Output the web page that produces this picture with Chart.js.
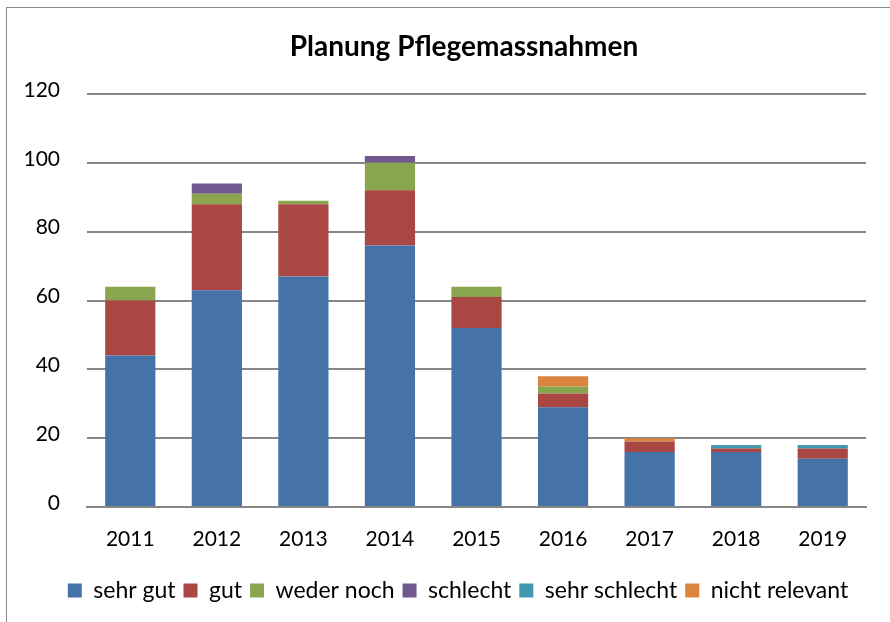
<!DOCTYPE html>
<html><head><meta charset="utf-8">
<script src="https://cdn.jsdelivr.net/npm/chart.js@4"></script>
<style>html,body{margin:0;padding:0;background:#fff}#wrap{position:relative;width:890px;height:622px}</style>
</head><body><div id="wrap"><canvas id="c" width="890" height="622"></canvas></div>
<script>
const categories = ["2011","2012","2013","2014","2015","2016","2017","2018","2019"];
const sehrGut      = [44, 63, 67, 76, 52, 29, 16, 16, 14];
const gut          = [16, 25, 21, 16,  9,  4,  3,  1,  3];
const wederNoch    = [ 4,  3,  1,  8,  3,  2,  0,  0,  0];
const schlecht     = [ 0,  3,  0,  2,  0,  0,  0,  0,  0];
const sehrSchlecht = [ 0,  0,  0,  0,  0,  0,  0,  1,  1];
const nichtRelevant= [ 0,  0,  0,  0,  0,  3,  1,  0,  0];
const yTicks = [0, 20, 40, 60, 80, 100, 120];

const FONT = "Lato, 'Open Sans', sans-serif";
const borderPlugin = {
  id: 'frame',
  afterLayout(chart) {
    if (chart.titleBlock) { chart.titleBlock.left += 31; chart.titleBlock.right += 31; }
    if (chart.legend) { chart.legend.left += 25; chart.legend.right += 25; }
  },
  beforeDraw(chart) {
    const ctx = chart.ctx;
    ctx.save();
    ctx.fillStyle = '#fff';
    ctx.fillRect(0, 0, chart.width, chart.height);
    ctx.strokeStyle = '#8c8c8c';
    ctx.lineWidth = 1;
    ctx.strokeRect(6.5, 7.5, 900, 640);
    ctx.restore();
  }
};
const ds = (label, data, color) => ({label, data, backgroundColor: color, borderWidth: 0, barPercentage: 0.58, categoryPercentage: 1.0});
new Chart(document.getElementById('c'), {
  type: 'bar',
  data: {
    labels: categories,
    datasets: [
      ds('sehr gut', sehrGut, '#4572A7'),
      ds('gut', gut, '#AA4643'),
      ds('weder noch', wederNoch, '#89A54E'),
      ds('schlecht', schlecht, '#71588F'),
      ds('sehr schlecht', sehrSchlecht, '#4198AF'),
      ds('nicht relevant', nichtRelevant, '#DB843D')
    ]
  },
  plugins: [borderPlugin],
  options: {
    responsive: false,
    animation: false,
    layout: { padding: { left: 0, right: 24, top: 0, bottom: 10 } },
    plugins: {
      title: { display: true, text: 'Planung Pflegemassnahmen', color: '#000',
        font: { family: FONT, size: 28, weight: 'bold', lineHeight: 1.2 }, padding: { top: 30, bottom: 30.4 } },
      legend: { position: 'bottom',
        labels: { color: '#000', font: { family: FONT, size: 23 }, boxWidth: 14, boxHeight: 14, padding: 8 } },
      tooltip: { enabled: false }
    },
    scales: {
      x: { stacked: true,
        grid: { display: false, drawTicks: false },
        border: { display: true, color: '#868686', width: 2 },
        ticks: { color: '#000', font: { family: FONT, size: 21 }, padding: 20 },
        afterFit(s) { s.height = 64; }
      },
      y: { stacked: true, min: 0, max: 120,
        afterBuildTicks(s) { s.ticks = yTicks.map(v => ({ value: v })); },
        grid: { color: '#868686', lineWidth: 2, drawTicks: false },
        border: { display: false },
        ticks: { color: '#000', font: { family: FONT, size: 21 }, padding: 27, labelOffset: -4 },
        afterFit(s) { s.width = 87; }
      }
    }
  }
});
</script></body></html>
